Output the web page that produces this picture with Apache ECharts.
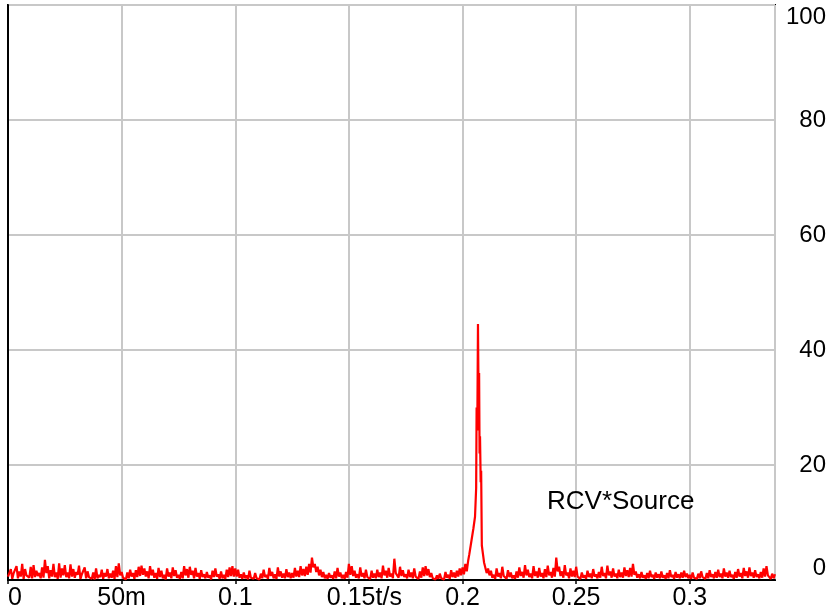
<!DOCTYPE html>
<html>
<head>
<meta charset="utf-8">
<script src="https://cdn.jsdelivr.net/npm/echarts@6/dist/echarts.min.js"></script>
<style>
  html, body { margin: 0; padding: 0; background: #fff; }
  #chart { width: 831px; height: 616px; }
</style>
</head>
<body>
<div id="chart"></div>
<script>
const tStep = 0.00125
const baseValues = [
  0.6, 1.9, 1.2, 2.4, 1.5, 2.8, 1.9, 1.0, 2.3, 2.6,
  1.6, 1.2, 2.2, 3.5, 2.4, 1.7, 2.8, 1.3, 2.9, 2.0,
  2.6, 1.3, 2.7, 1.9, 1.4, 2.5, 1.0, 2.2, 1.5, 0.8,
  1.3, 2.0, 0.9, 1.8, 1.2, 1.9, 1.1, 1.6, 2.4, 2.9,
  1.4, 0.6, 1.3, 1.8, 1.2, 1.7, 2.3, 2.5, 2.0, 1.5,
  2.4, 1.8, 1.2, 2.1, 1.6, 0.9, 2.0, 1.3, 2.2, 1.7,
  0.9, 1.4, 2.4, 1.9, 2.3, 1.6, 2.1, 1.2, 1.7, 1.0,
  1.4, 0.8, 1.6, 2.0, 1.0, 1.5, 0.9, 1.8, 2.2, 2.4,
  2.0, 1.8, 1.0, 1.3, 0.8, 1.6, 0.7, 1.2, 0.6, 1.1,
  1.8, 0.9, 2.1, 1.4, 1.0, 2.2, 1.5, 1.1, 1.9, 1.3,
  1.2, 2.1, 1.6, 2.4, 1.9, 2.3, 2.8, 3.9, 2.8, 2.3,
  1.8, 1.4, 0.9, 1.2, 0.8, 1.5, 2.1, 1.3, 0.9, 1.4,
  2.8, 2.4, 1.6, 1.0, 2.2, 1.2, 1.8, 0.8, 1.6, 1.1,
  1.8, 1.3, 2.5, 1.6, 2.1, 1.1, 3.7, 1.5, 2.3, 1.7,
  1.0, 1.8, 1.3, 2.0, 0.9, 1.5, 2.2, 2.4, 1.9, 1.2,
  0.5, 0.8, 1.1, 0.6, 1.4, 0.9, 1.7, 1.3, 1.6, 2.0,
  2.2, 2.8, 3.4, 5.0, 10, 20, 10, 4.0, 3.0, 2.0,
  1.6, 0.9, 2.0, 1.2, 2.3, 1.0, 1.7, 1.3, 0.8, 1.5,
  2.2, 1.4, 2.6, 1.8, 1.1, 2.4, 1.5, 2.1, 1.2, 1.9,
  2.5, 1.4, 2.1, 3.9, 2.3, 1.5, 2.6, 1.3, 2.0, 1.6,
  2.3, 0.9, 1.3, 0.8, 1.6, 1.1, 1.9, 1.0, 1.4, 2.3,
  1.2, 2.5, 1.5, 2.0, 1.1, 1.8, 1.3, 2.2, 1.7, 2.1,
  2.8, 1.5, 1.0, 1.4, 0.8, 1.2, 1.6, 0.9, 1.3, 1.0,
  1.5, 0.8, 1.2, 1.7, 0.9, 1.4, 1.0, 1.3, 1.6, 1.1,
  0.9, 1.3, 0.7, 1.1, 1.5, 0.8, 1.2, 1.7, 1.0, 1.4,
  1.8, 1.1, 2.0, 1.3, 1.6, 0.9, 1.4, 1.9, 1.2, 2.1,
  1.5, 2.2, 1.3, 1.7, 1.0, 1.4, 2.0, 2.4, 0.9, 1.1,
  1.0
]
// samples half-way between the ones above, at (i + 0.5) * tStep (the dips)
const midValues = [
  0.4, 0.2, 0.9, 0.3, 0.6, 0.2, 0.8, 0.4, 0.3, 0.5,
  0.7, 0.3, 0.4, 1.2, 0.3, 0.6, 0.5, 0.2, 0.4, 0.8,
  0.5, 0.3, 0.6, 0.4, 0.9, 0.2, 0.7, 0.3, 0.5, 0.2,
  0.1, 0.3, 0.5, 0.2, 0.6, 0.3, 0.4, 0.2, 0.5, 0.8,
  0.4, 0.1, 0.3, 0.6, 0.2, 0.5, 0.7, 0.9, 0.6, 0.3,
  0.8, 0.4, 0.2, 0.5, 0.3, 0.1, 0.6, 0.3, 0.7, 0.4,
  0.2, 0.3, 0.8, 0.4, 0.9, 0.3, 0.6, 0.2, 0.5, 0.3,
  0.4, 0.1, 0.5, 0.6, 0.2, 0.3, 0.2, 0.5, 0.7, 0.6,
  0.6, 0.4, 0.2, 0.3, 0.1, 0.4, 0.2, 0.3, 0.1, 0.3,
  0.5, 0.2, 0.7, 0.3, 0.2, 0.6, 0.4, 0.3, 0.5, 0.3,
  0.4, 0.6, 0.5, 0.8, 0.7, 0.9, 1.3, 2.2, 1.4, 0.8,
  0.5, 0.3, 0.2, 0.4, 0.2, 0.3, 0.6, 0.3, 0.2, 0.4,
  0.9, 0.7, 0.4, 0.3, 0.6, 0.3, 0.5, 0.2, 0.4, 0.3,
  0.5, 0.3, 0.8, 0.4, 0.6, 0.3, 1.2, 0.4, 0.7, 0.5,
  0.3, 0.5, 0.3, 0.6, 0.2, 0.4, 0.7, 0.8, 0.5, 0.3,
  0.1, 0.2, 0.3, 0.1, 0.4, 0.2, 0.5, 0.4, 0.6, 0.8,
  1.0, 1.5, 3.8, 7.0, 15, 14, 6.0, 3.5, 1.2, 0.8,
  0.4, 0.2, 0.6, 0.3, 0.7, 0.2, 0.5, 0.3, 0.2, 0.4,
  0.7, 0.4, 0.8, 0.5, 0.3, 0.7, 0.4, 0.6, 0.3, 0.5,
  0.8, 0.4, 0.6, 1.5, 0.7, 0.4, 0.8, 0.3, 0.6, 0.5,
  0.6, 0.2, 0.4, 0.2, 0.5, 0.3, 0.6, 0.3, 0.4, 0.7,
  0.3, 0.8, 0.4, 0.6, 0.3, 0.5, 0.4, 0.7, 0.5, 0.6,
  0.9, 0.4, 0.3, 0.4, 0.2, 0.3, 0.5, 0.2, 0.4, 0.3,
  0.4, 0.2, 0.3, 0.5, 0.2, 0.4, 0.3, 0.4, 0.5, 0.3,
  0.2, 0.4, 0.2, 0.3, 0.5, 0.2, 0.3, 0.5, 0.3, 0.4,
  0.5, 0.3, 0.6, 0.4, 0.5, 0.2, 0.4, 0.6, 0.3, 0.7,
  0.4, 0.7, 0.4, 0.5, 0.3, 0.4, 0.6, 0.8, 0.2, 0.3
]
// finer points around the pulse near 0.207 s
const peakTimes = [0.2030, 0.2040, 0.2048, 0.2055, 0.2060, 0.2062, 0.2065, 0.2068, 0.2071, 0.2073, 0.2075, 0.2077, 0.2080, 0.2082, 0.2085, 0.2090, 0.2095]
const peakValues = [4.5, 7.0, 9.0, 11, 16, 30, 26, 44.5, 30, 36, 22, 25, 17, 19, 6, 4.5, 3]
const xMax = 0.3375
const yTicks = [0, 20, 40, 60, 80, 100]
const traceName = 'RCV*Source'

const fontFamily = '"Liberation Sans", Arial, sans-serif'

const chart = echarts.init(document.getElementById('chart'))

// skip the coarse samples inside the pulse window, the fine ones cover it
function inPulse(t) {
  return t > 0.2028 && t < 0.2097
}

const seriesData = []
baseValues.forEach((v, i) => {
  const t = +(i * tStep).toFixed(6)
  if (!inPulse(t)) seriesData.push([t, v])
})
midValues.forEach((v, i) => {
  const t = +((i + 0.5) * tStep).toFixed(6)
  if (!inPulse(t)) seriesData.push([t, v])
})
peakTimes.forEach((t, i) => seriesData.push([t, peakValues[i]]))
seriesData.sort((a, b) => a[0] - b[0])

const option = {
  animation: false,
  backgroundColor: '#fff',
  title: {
    text: traceName,
    left: 542,
    top: 484,
    textStyle: {
      color: '#000',
      fontSize: 26,
      fontWeight: 'normal',
      fontFamily: fontFamily
    }
  },
  grid: {
    left: 8,
    right: 56,
    top: 5,
    bottom: 36,
    show: true,
    borderColor: '#000',
    borderWidth: 2,
    outerBoundsMode: 'none'
  },
  xAxis: {
    type: 'value',
    min: 0,
    max: xMax,
    interval: 0.05,
    axisLine: { show: true, lineStyle: { color: '#000', width: 2 } },
    axisTick: { show: true, length: 4, lineStyle: { color: '#000', width: 1.5 } },
    splitLine: { show: true, lineStyle: { color: '#c8c8c8', width: 2 } },
    axisLabel: {
      color: '#000',
      fontSize: 25,
      fontFamily: fontFamily,
      margin: 6,
      showMaxLabel: false,
      alignMinLabel: 'left',
      formatter: function (v) {
        if (v === 0) return '0'
        if (Math.abs(v - 0.05) < 1e-9) return '50m'
        if (Math.abs(v - 0.15) < 1e-9) return '{p|}0.15t/s'
        return String(+v.toFixed(4))
      },
      rich: {
        p: { width: 31 }
      }
    }
  },
  yAxis: {
    type: 'value',
    position: 'right',
    min: yTicks[0],
    max: yTicks[yTicks.length - 1],
    interval: 20,
    axisLine: { show: true, lineStyle: { color: '#000', width: 2 } },
    axisTick: { show: false },
    splitLine: { show: true, lineStyle: { color: '#c8c8c8', width: 2 } },
    axisLabel: {
      color: '#000',
      fontSize: 24,
      fontFamily: fontFamily,
      align: 'right',
      margin: 51,
      verticalAlignMaxLabel: 'top',
      verticalAlignMinLabel: 'bottom'
    }
  },
  series: [{
    name: traceName,
    type: 'line',
    data: seriesData,
    showSymbol: false,
    symbol: 'none',
    lineStyle: { color: '#ff0000', width: 2.2 },
    itemStyle: { color: '#ff0000' }
  }]
}
chart.setOption(option)
</script>
</body>
</html>
